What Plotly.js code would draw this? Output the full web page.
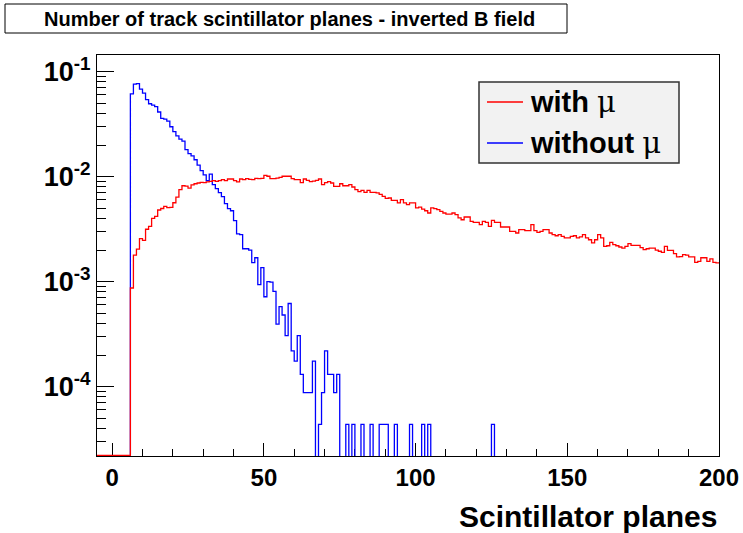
<!DOCTYPE html>
<html>
<head>
<meta charset="utf-8">
<script src="https://cdn.plot.ly/plotly-3.0.1.min.js"></script>
<style>
  html, body { margin: 0; padding: 0; background: #ffffff; }
  #chart { width: 743px; height: 533px; }
</style>
</head>
<body>
<div id="chart"></div>
<script>
// Histogram binning: one bin per scintillator plane
const binLow = -5;
const binHigh = 200;

// Normalised counts, "with mu" sample, bins 6..199 (all lower bins empty)
const withMuFirstBin = 6;
const withMu = [
  0.000871, 0.00179, 0.00204, 0.00257, 0.00248, 0.00316, 0.00336, 0.00401, 0.00419, 0.00482,
  0.00498, 0.00521, 0.00507, 0.00510, 0.00565, 0.00638, 0.00752, 0.00820, 0.00815, 0.00780,
  0.00834, 0.00857, 0.00871, 0.00883, 0.00877, 0.00891, 0.00902, 0.00916, 0.00902, 0.00916,
  0.00936, 0.00916, 0.00951, 0.00951, 0.00916, 0.00891, 0.00951, 0.00936, 0.00957, 0.00942,
  0.00936, 0.00964, 0.00957, 0.00964, 0.0103, 0.0101, 0.00957, 0.00957, 0.00968, 0.00985,
  0.0101, 0.0101, 0.0101, 0.00957, 0.00936, 0.00936, 0.00877, 0.00951, 0.00922, 0.00896,
  0.00906, 0.00922, 0.00951, 0.00839, 0.00877, 0.00896, 0.00871, 0.00809, 0.00809, 0.00857,
  0.00820, 0.00820, 0.00839, 0.00798, 0.00752, 0.00720, 0.00741, 0.00708, 0.00741, 0.00708,
  0.00708, 0.00700, 0.00678, 0.00649, 0.00621, 0.00627, 0.00595, 0.00595, 0.00562, 0.00604,
  0.00562, 0.00541, 0.00562, 0.00562, 0.00504, 0.00514, 0.00492, 0.00474, 0.00451, 0.00504,
  0.00496, 0.00485, 0.00467, 0.00451, 0.00441, 0.00441, 0.00451, 0.00435, 0.00405, 0.00389,
  0.00413, 0.00413, 0.00375, 0.00367, 0.00367, 0.00349, 0.00375, 0.00367, 0.00336, 0.00384,
  0.00367, 0.00367, 0.00332, 0.00332, 0.00332, 0.00301, 0.00301, 0.00291, 0.00313, 0.00313,
  0.00306, 0.00306, 0.00349, 0.00306, 0.00295, 0.00301, 0.00313, 0.00313, 0.00291, 0.00281,
  0.00274, 0.00281, 0.00270, 0.00261, 0.00261, 0.00270, 0.00274, 0.00261, 0.00267, 0.00281,
  0.00262, 0.00251, 0.00234, 0.00251, 0.00281, 0.00262, 0.00217, 0.00220, 0.00237, 0.00225,
  0.00220, 0.00214, 0.00209, 0.00217, 0.00230, 0.00222, 0.00222, 0.00222, 0.00211, 0.00202,
  0.00206, 0.00209, 0.00209, 0.00200, 0.00195, 0.00190, 0.00217, 0.00199, 0.00199, 0.00185,
  0.00172, 0.00173, 0.00181, 0.00179, 0.00172, 0.00172, 0.00153, 0.00156, 0.00169, 0.00169,
  0.00156, 0.00165, 0.00153, 0.00151
];

// Normalised counts, "without mu" sample, bins 6..125 (empty elsewhere)
const withoutMuFirstBin = 6;
const withoutMu = [
  0.0614, 0.0760, 0.0769, 0.0681, 0.0624, 0.0541, 0.0495, 0.0480, 0.0465, 0.0413,
  0.0360, 0.0353, 0.0338, 0.0299, 0.0269, 0.0245, 0.0228, 0.0218, 0.0181, 0.0166,
  0.0158, 0.0145, 0.0129, 0.0114, 0.0104, 0.00916, 0.0106, 0.00839, 0.00769, 0.00705,
  0.00645, 0.00553, 0.00496, 0.00474, 0.00381, 0.00286, 0.00281, 0.00206, 0.00206, 0.00200,
  0.00152, 0.00169, 0.000936, 0.00136, 0.000719, 0.00100, 0.00099, 0.000809, 0.000394, 0.000578,
  0.000482, 0.000306, 0.000620, 0.000219, 0.000175, 0.000306, 0.000131, 0.0000877, 0.0000877, 0.0000877,
  0.000175, 0, 0.0000438, 0.0000877, 0.000219, 0.000131, 0.000131, 0.0000877, 0.000131, 0,
  0, 0.0000438, 0, 0.0000438, 0, 0, 0.0000438, 0, 0, 0.0000438,
  0, 0, 0.0000438, 0.0000438, 0.0000438, 0, 0, 0.0000438, 0, 0,
  0, 0, 0.0000438, 0, 0, 0, 0.0000438, 0, 0.0000438, 0,
  0, 0, 0, 0, 0, 0, 0, 0, 0, 0,
  0, 0, 0, 0, 0, 0, 0, 0, 0, 0.0000438
];

const seriesNames = ['with \u03bc', 'without \u03bc'];
const seriesColors = ['#ff0000', '#0000ff'];

const titleText = 'Number of track scintillator planes - inverted B field';
const xTitleText = 'Scintillator planes';
const xTickVals = [0, 50, 100, 150, 200];
const yTickVals = [1e-4, 1e-3, 1e-2, 1e-1];
const yTickText = ['10<sup>-4</sup>', '10<sup>-3</sup>', '10<sup>-2</sup>', '10<sup>-1</sup>'];

// log10 limits of the vertical axis
const yLogMin = -4.66;
const yLogMax = -0.841;

// Build a step outline (ROOT "hist" style) over the full bin range.
// Empty bins are drawn at `floor`, on the frame bottom or below it.
function stepOutline(firstBin, values, floor) {
  const xs = [], ys = [];
  let last = floor;
  for (let b = binLow; b < binHigh; b++) {
    const i = b - firstBin;
    const v = (i >= 0 && i < values.length) ? values[i] : 0;
    last = v > 0 ? v : floor;
    xs.push(b);
    ys.push(last);
  }
  xs.push(binHigh);
  ys.push(last);
  return { xs, ys };
}

// empty "with mu" bins sit just on the frame bottom; empty "without mu" bins fall below it
const red = stepOutline(withMuFirstBin, withMu, Math.pow(10, yLogMin + 0.006));
const blue = stepOutline(withoutMuFirstBin, withoutMu, 1e-7);

// minor log ticks 2..9 x 10^n
const yMinor = [];
for (let e = -5; e <= -1; e++) {
  for (let m = 2; m <= 9; m++) yMinor.push(m * Math.pow(10, e));
}

const font = { family: 'Liberation Sans, Arial, sans-serif', color: '#000000', weight: 700 };

const traces = [
  {
    x: blue.xs, y: blue.ys, type: 'scatter', mode: 'lines', name: seriesNames[1],
    line: { shape: 'hv', color: seriesColors[1], width: 1.3 }, showlegend: false, hoverinfo: 'skip'
  },
  {
    x: red.xs, y: red.ys, type: 'scatter', mode: 'lines', name: seriesNames[0],
    line: { shape: 'hv', color: seriesColors[0], width: 1.3 }, showlegend: false, hoverinfo: 'skip'
  }
];

// frame geometry in pixels, used to place the boxes in paper units
const L = 97, R = 719, T = 55, B = 456;
const px = (x) => (x - L) / (R - L);
const py = (y) => (B - y) / (B - T);

const muSpan = (s) => s.replace('\u03bc', '<span style="font-family:DejaVu Serif, serif;font-weight:normal">\u03bc</span>');

const layout = {
  width: 743, height: 533,
  margin: { l: L, r: 743 - R, t: T, b: 533 - B, pad: 0 },
  paper_bgcolor: '#ffffff', plot_bgcolor: '#ffffff',
  showlegend: false,
  xaxis: {
    type: 'linear', range: [binLow, binHigh],
    showgrid: false, zeroline: false,
    showline: true, linecolor: '#000000', linewidth: 1, mirror: true,
    ticks: 'inside', ticklen: 13, tickwidth: 1, tickcolor: '#000000',
    tickmode: 'array', tickvals: xTickVals,
    tickfont: Object.assign({ size: 24 }, font),
    minor: { tickmode: 'linear', tick0: 0, dtick: 10, ticks: 'inside', ticklen: 7, tickwidth: 1, tickcolor: '#000000', showgrid: false },
    layer: 'below traces'
  },
  yaxis: {
    type: 'log', range: [yLogMin, yLogMax],
    showgrid: false, zeroline: false,
    showline: true, linecolor: '#000000', linewidth: 1, mirror: true,
    ticks: 'inside', ticklen: 17, tickwidth: 1, tickcolor: '#000000',
    tickmode: 'array', tickvals: yTickVals, ticktext: yTickText,
    tickfont: Object.assign({ size: 27 }, font),
    minor: { tickmode: 'array', tickvals: yMinor, ticks: 'inside', ticklen: 9, tickwidth: 1, tickcolor: '#000000', showgrid: false },
    layer: 'below traces'
  },
  shapes: [
    // title box
    { type: 'rect', xref: 'paper', yref: 'paper', x0: px(5), x1: px(567), y0: py(33), y1: py(4),
      line: { color: '#000000', width: 1 }, fillcolor: '#ffffff' },
    // legend box
    { type: 'rect', xref: 'paper', yref: 'paper', x0: px(479), x1: px(679), y0: py(163), y1: py(82),
      line: { color: '#333333', width: 1.5 }, fillcolor: '#f2f2f2' },
    // legend samples
    { type: 'line', xref: 'paper', yref: 'paper', x0: px(487), x1: px(523), y0: py(102), y1: py(102),
      line: { color: seriesColors[0], width: 1.3 } },
    { type: 'line', xref: 'paper', yref: 'paper', x0: px(487), x1: px(523), y0: py(143), y1: py(143),
      line: { color: seriesColors[1], width: 1.3 } }
  ],
  annotations: [
    { text: titleText, xref: 'paper', yref: 'paper', x: px(289), y: py(18.5),
      xanchor: 'center', yanchor: 'middle', showarrow: false,
      font: Object.assign({ size: 20 }, font) },
    { text: muSpan(seriesNames[0]), xref: 'paper', yref: 'paper', x: px(528), y: py(102),
      xanchor: 'left', yanchor: 'middle', showarrow: false,
      font: Object.assign({ size: 29 }, font) },
    { text: muSpan(seriesNames[1]), xref: 'paper', yref: 'paper', x: px(528), y: py(143),
      xanchor: 'left', yanchor: 'middle', showarrow: false,
      font: Object.assign({ size: 29 }, font) },
    { text: xTitleText, xref: 'paper', yref: 'paper', x: 1, y: py(516),
      xanchor: 'right', yanchor: 'middle', showarrow: false,
      font: Object.assign({ size: 30 }, font) }
  ]
};

Plotly.newPlot('chart', traces, layout, { displayModeBar: false, staticPlot: true });
</script>
</body>
</html>
